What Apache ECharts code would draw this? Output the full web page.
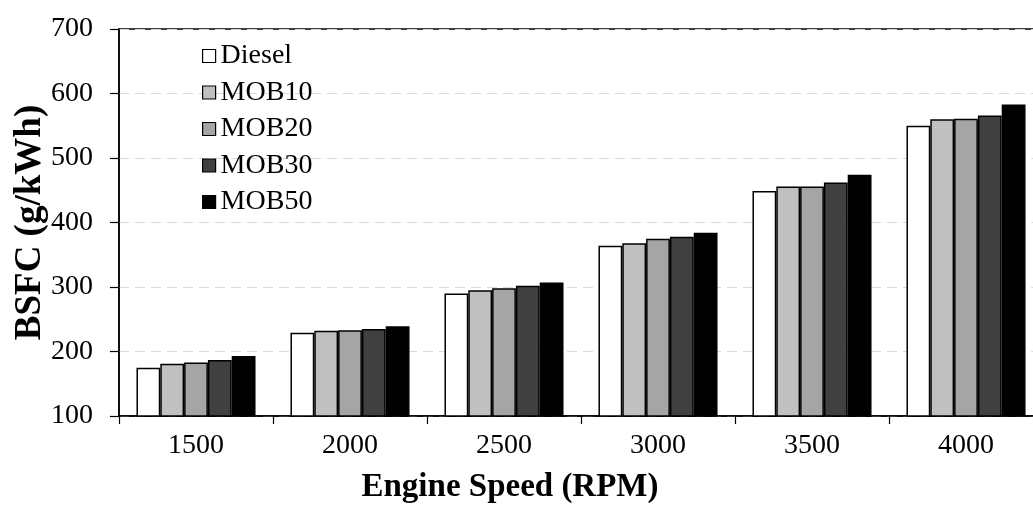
<!DOCTYPE html>
<html>
<head>
<meta charset="utf-8">
<script src="https://cdn.jsdelivr.net/npm/echarts@6/dist/echarts.min.js"></script>
<style>html,body{margin:0;padding:0;background:#fff}#c{width:1033px;height:518px}</style>
</head>
<body>
<div id="c"></div>
<script>
const categories = ['1500', '2000', '2500', '3000', '3500', '4000'];
const seriesNames = ['Diesel', 'MOB10', 'MOB20', 'MOB30', 'MOB50'];
const diesel = [175, 229, 290, 364, 449, 550];
const mob10  = [181, 232, 295, 368, 456, 560];
const mob20  = [183, 233, 298, 375, 456, 561];
const mob30  = [187, 235, 302, 378, 462, 566];
const mob50  = [193, 239, 307, 384, 474, 583];
const yTicks = [100, 200, 300, 400, 500, 600, 700];
const colors = ['#ffffff', '#c0c0c0', '#a5a5a5', '#404040', '#000000'];

const values = [diesel, mob10, mob20, mob30, mob50];
const font = '"Liberation Serif", "Times New Roman", serif';

const chart = echarts.init(document.getElementById('c'));
chart.setOption({
  animation: false,
  backgroundColor: '#ffffff',
  textStyle: { fontFamily: font },
  grid: { left: 119, top: 29, height: 387, width: 924, outerBoundsMode: 'none', containLabel: false,
          show: true, borderColor: '#000', borderWidth: 1.5, backgroundColor: 'transparent' },
  legend: {
    orient: 'vertical', left: 197, top: 37, icon: 'rect',
    itemWidth: 13, itemHeight: 13, itemGap: 8.5,
    textStyle: { fontFamily: font, fontSize: 28, color: '#000', lineHeight: 28, padding: [0, 0, 0, 0] },
    data: seriesNames.map((n, i) => ({ name: n, itemStyle: { color: colors[i], borderColor: '#000', borderWidth: 1.2 } }))
  },
  xAxis: {
    type: 'category', data: categories,
    name: 'Engine Speed (RPM)', nameLocation: 'middle', nameGap: 55, nameMoveOverlap: false,
    nameTextStyle: { fontFamily: font, fontSize: 33, fontWeight: 'bold', color: '#000', padding: [0, 142, 0, 0] },
    axisLine: { lineStyle: { color: '#000', width: 1.5 } },
    axisTick: { show: true, length: 8, lineStyle: { color: '#000', width: 1.2 } },
    axisLabel: { fontFamily: font, fontSize: 28, color: '#000', margin: 16 },
    splitLine: { show: false }
  },
  yAxis: {
    type: 'value', min: yTicks[0], max: yTicks[yTicks.length - 1], interval: 100,
    name: 'BSFC (g/kWh)', nameLocation: 'middle', nameGap: 70, nameRotate: 90, nameMoveOverlap: false,
    nameTextStyle: { fontFamily: font, fontSize: 37, fontWeight: 'bold', color: '#000' },
    axisLine: { show: true, lineStyle: { color: '#000', width: 1.5 } },
    axisTick: { show: true, length: 9, lineStyle: { color: '#000', width: 1.2 } },
    axisLabel: { fontFamily: font, fontSize: 28, color: '#000', margin: 26 },
    splitLine: { show: true, lineStyle: { color: '#d9d9d9', type: [10, 6], width: 1.2 } }
  },
  series: seriesNames.map((n, i) => ({
    name: n, type: 'bar', data: values[i],
    barGap: '0%', barCategoryGap: '22.7%',
    itemStyle: { color: colors[i], borderColor: '#000', borderWidth: 1.5 }
  }))
});
</script>
</body>
</html>
